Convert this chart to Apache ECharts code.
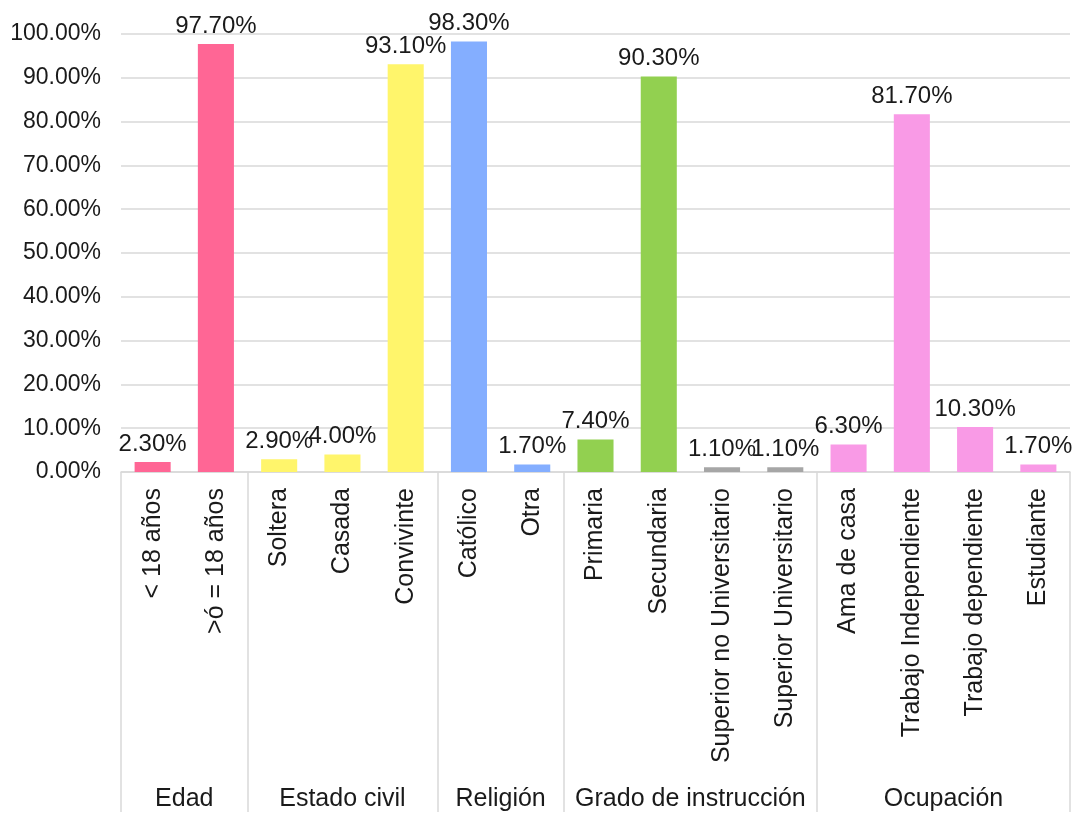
<!DOCTYPE html>
<html>
<head>
<meta charset="utf-8">
<script src="https://cdn.jsdelivr.net/npm/echarts@6/dist/echarts.min.js"></script>
<style>html,body{margin:0;padding:0;background:#fff}#c{width:1080px;height:816px}</style>
</head>
<body>
<div id="c"></div>
<script>
const categories = ['< 18 años', '>ó = 18 años', 'Soltera', 'Casada', 'Convivinte', 'Católico', 'Otra', 'Primaria', 'Secundaria', 'Superior no Universitario', 'Superior Universitario', 'Ama de casa', 'Trabajo Independiente', 'Trabajo dependiente', 'Estudiante'];
const values = [2.3, 97.7, 2.9, 4.0, 93.1, 98.3, 1.7, 7.4, 90.3, 1.1, 1.1, 6.3, 81.7, 10.3, 1.7];
const groupNames = ['Edad', 'Estado civil', 'Religión', 'Grado de instrucción', 'Ocupación'];
const groupSizes = [2, 3, 2, 4, 4];
const yTicks = [0, 10, 20, 30, 40, 50, 60, 70, 80, 90, 100];

const groupColors = ['#FF6695', '#FFF56B', '#84AEFF', '#92D050', '#F99AE6'];
const barColorOverride = {9: '#A6A6A6', 10: '#A6A6A6'};

// derive group index per category, group boundaries and centers
const groupOf = [];
const boundaries = [0];
const centers = {};
let acc = 0;
groupSizes.forEach((n, g) => {
  for (let i = 0; i < n; i++) groupOf.push(g);
  centers[(acc + n / 2).toFixed(1)] = groupNames[g];
  acc += n;
  boundaries.push(acc);
});

const font = 'Liberation Sans, Arial, sans-serif';
const txt = '#1a1a1a';

const chart = echarts.init(document.getElementById('c'));
chart.setOption({
  animation: false,
  grid: {left: 121, right: 10, top: 34, bottom: 344},
  xAxis: [{
    type: 'category',
    data: categories,
    axisLine: {lineStyle: {color: '#d9d9d9', width: 1.5}},
    axisTick: {
      show: true,
      length: 340,
      lineStyle: {color: '#d9d9d9', width: 1.5},
      interval: (idx) => boundaries.indexOf(idx) >= 0
    },
    axisLabel: {rotate: 90, margin: 16, color: txt, fontSize: 25, fontFamily: font, interval: 0}
  }, {
    type: 'value',
    position: 'bottom',
    min: 0,
    max: categories.length,
    interval: 0.5,
    axisLine: {show: false},
    axisTick: {show: false},
    splitLine: {show: false},
    axisLabel: {
      margin: 315,
      color: txt, fontSize: 25, fontFamily: font,
      showMinLabel: true, showMaxLabel: true,
      formatter: (v) => centers[v.toFixed(1)] || ''
    }
  }],
  yAxis: {
    type: 'value',
    min: yTicks[0],
    max: yTicks[yTicks.length - 1],
    interval: yTicks[1] - yTicks[0],
    axisLine: {show: false},
    axisTick: {show: false},
    splitLine: {lineStyle: {color: '#d9d9d9', width: 1.5}},
    axisLabel: {margin: 20, color: txt, fontSize: 23, fontFamily: font, formatter: (v) => v.toFixed(2) + '%'}
  },
  series: [{
    type: 'bar',
    xAxisIndex: 0,
    barCategoryGap: '43%',
    data: values.map((v, i) => ({
      value: v,
      itemStyle: {color: barColorOverride[i] || groupColors[groupOf[i]]}
    })),
    label: {
      show: true, position: 'top', distance: 6,
      color: txt, fontSize: 24, fontFamily: font,
      formatter: (p) => p.value.toFixed(2) + '%'
    }
  }]
});
</script>
</body>
</html>
